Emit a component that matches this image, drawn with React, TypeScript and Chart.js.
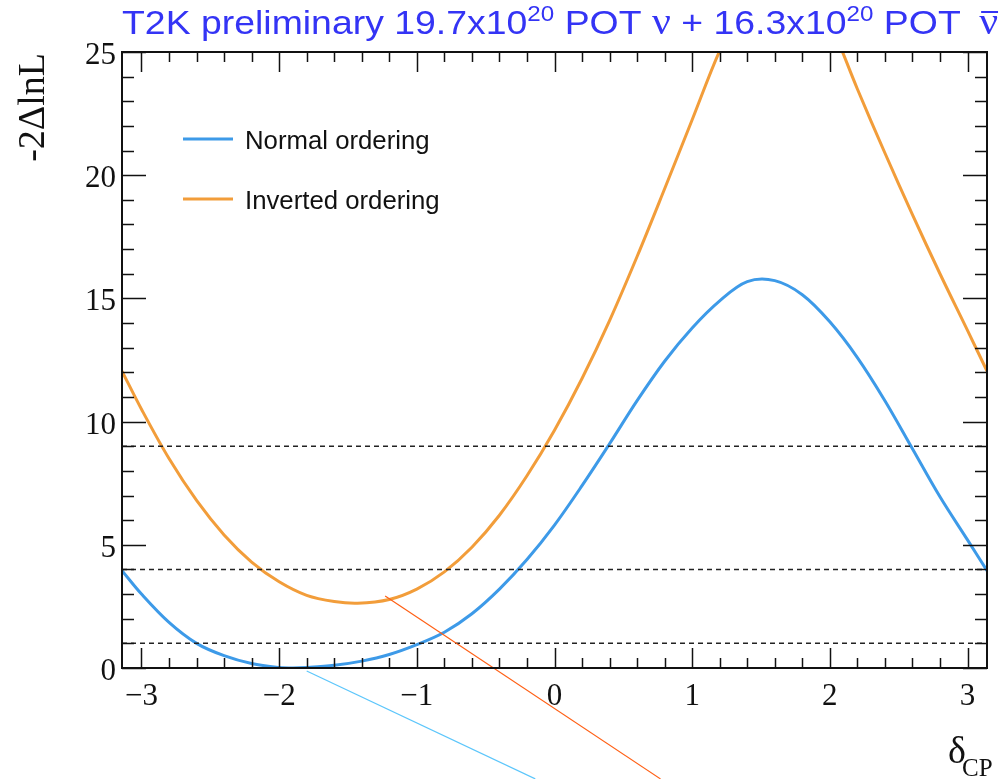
import React, { useEffect, useRef } from "react";
import { Chart, registerables } from "chart.js";

Chart.register(...registerables);

const PI = Math.PI;

// delta_CP sample points and -2ΔlnL values
const normalDelta = [-PI, -3.0, -2.8, -2.6, -2.4, -2.2, -2.0, -1.9, -1.8, -1.6, -1.4, -1.2, -1.0, -0.8, -0.6, -0.4, -0.2, 0, 0.2, 0.4, 0.6, 0.8, 1.0, 1.2, 1.4, 1.6, 1.8, 2.0, 2.2, 2.4, 2.6, 2.8, 3.0, PI];
const normalChi2 = [3.95, 3.0, 1.85, 1.0, 0.5, 0.18, 0.02, 0.0, 0.02, 0.11, 0.28, 0.55, 0.95, 1.45, 2.2, 3.2, 4.4, 5.8, 7.4, 9.1, 10.85, 12.45, 13.8, 14.9, 15.68, 15.72, 15.15, 14.05, 12.6, 10.85, 8.9, 6.95, 5.2, 3.95];

const invertedDelta = [-PI, -3.0, -2.8, -2.6, -2.4, -2.2, -2.0, -1.8, -1.6, -1.43, -1.2, -1.0, -0.8, -0.6, -0.4, -0.2, 0, 0.2, 0.4, 0.6, 0.8, 1.0, 1.2, 1.4, 1.6, 1.8, 2.0, 2.2, 2.4, 2.6, 2.8, 3.0, PI];
const invertedChi2 = [12.05, 10.5, 8.5, 6.8, 5.4, 4.3, 3.5, 2.95, 2.7, 2.63, 2.78, 3.2, 3.9, 4.9, 6.2, 7.8, 9.65, 11.75, 14.1, 16.7, 19.45, 22.25, 25.05, 27.3, 28.4, 28.2, 26.2, 23.5, 20.9, 18.4, 16.0, 13.7, 12.05];

const xMajorTicks = [-3, -2, -1, 0, 1, 2, 3];
const xTickLabels = ["\u22123", "\u22122", "\u22121", "0", "1", "2", "3"];
const yMajorTicks = [0, 5, 10, 15, 20, 25];
const yTickLabels = ["0", "5", "10", "15", "20", "25"];
const confidenceLevels = [1, 4, 9];

// thin pointer lines (data coordinates: start, end)
const normalPointer = [[-1.8, -0.12], [-0.14, -4.5]];
const invertedPointer = [[-1.23, 2.92], [0.77, -4.5]];

const seriesNames = ["Normal ordering", "Inverted ordering"];
const seriesColors = ["#3d9ae8", "#f29d3a"];
const pointerColors = ["#5cc6fb", "#ff5f14"];

const SERIF = '"Liberation Serif", "DejaVu Serif", serif';
const SANS = '"Liberation Sans", Arial, sans-serif';

function stretchedText(ctx: CanvasRenderingContext2D, text: string, x: number, y: number, font: string, align: CanvasTextAlign, sx: number, color: string) {
  ctx.save();
  ctx.font = font;
  ctx.fillStyle = color;
  ctx.textBaseline = "alphabetic";
  ctx.textAlign = align;
  ctx.translate(x, y);
  ctx.scale(sx, 1);
  ctx.fillText(text, 0, 0);
  ctx.restore();
}

const rootStyle = {
  id: "rootStyle",
  afterDatasetsDraw(chart: any) {
    const { ctx, scales } = chart;
    const xs = scales.x, ys = scales.y;
    const pointers = [normalPointer, invertedPointer];
    ctx.save();
    ctx.lineWidth = 1.2;
    pointers.forEach((p, i) => {
      ctx.strokeStyle = pointerColors[i];
      ctx.beginPath();
      ctx.moveTo(xs.getPixelForValue(p[0][0]), ys.getPixelForValue(p[0][1]));
      ctx.lineTo(xs.getPixelForValue(p[1][0]), ys.getPixelForValue(p[1][1]));
      ctx.stroke();
    });
    ctx.restore();
  },
  afterDraw(chart: any) {
    const { ctx, chartArea: a, scales } = chart;
    const xs = scales.x, ys = scales.y;
    ctx.save();
    ctx.strokeStyle = "#111";
    // ticks
    ctx.lineWidth = 1.5;
    ctx.beginPath();
    const xMin = xs.min, xMax = xs.max;
    for (let k = Math.ceil(xMin / 0.2 - 1e-6); k <= Math.floor(xMax / 0.2 + 1e-6); k++) {
      const v = k * 0.2;
      const major = Math.abs(v - Math.round(v)) < 1e-6;
      const len = major ? 20 : 10;
      const px = Math.round(xs.getPixelForValue(v)) + 0.5;
      ctx.moveTo(px, a.bottom); ctx.lineTo(px, a.bottom - len);
      ctx.moveTo(px, a.top); ctx.lineTo(px, a.top + len);
    }
    for (let v = ys.min; v <= ys.max; v += 1) {
      const major = v % 5 === 0;
      const len = major ? 24 : 12;
      const py = Math.round(ys.getPixelForValue(v)) + 0.5;
      ctx.moveTo(a.left, py); ctx.lineTo(a.left + len, py);
      ctx.moveTo(a.right, py); ctx.lineTo(a.right - len, py);
    }
    ctx.stroke();
    // frame
    ctx.lineWidth = 2;
    ctx.strokeRect(a.left, a.top, a.right - a.left, a.bottom - a.top);
    ctx.restore();

    // tick labels
    xMajorTicks.forEach((v, i) => {
      stretchedText(ctx, xTickLabels[i], xs.getPixelForValue(v), a.bottom + 37, `31px ${SERIF}`, "center", 1, "#111");
    });
    yMajorTicks.forEach((v, i) => {
      stretchedText(ctx, yTickLabels[i], a.left - 6, ys.getPixelForValue(v) + 12, `31px ${SERIF}`, "right", 1, "#111");
    });

    // axis titles
    ctx.save();
    ctx.font = `38px ${SERIF}`;
    ctx.fillStyle = "#111";
    ctx.textAlign = "right";
    ctx.textBaseline = "alphabetic";
    ctx.translate(44, a.top + 1);
    ctx.rotate(-Math.PI / 2);
    ctx.fillText("-2\u0394lnL", 0, 0);
    ctx.restore();

    stretchedText(ctx, "\u03b4", 966, 763, `38px ${SERIF}`, "right", 1, "#111");
    stretchedText(ctx, "CP", 962, 776, `25px ${SERIF}`, "left", 1, "#111");

    // title
    const blue = "rgb(52,52,245)";
    const sx = 1.1;
    const parts: [string, string, number][] = [
      ["T2K preliminary 19.7x10", `34px ${SANS}`, 34],
      ["20", `22px ${SANS}`, 21],
      [" POT ", `34px ${SANS}`, 34],
      ["\u03bd", `38px ${SERIF}`, 34],
      [" + 16.3x10", `34px ${SANS}`, 34],
      ["20", `22px ${SANS}`, 21],
      [" POT ", `34px ${SANS}`, 34],
      ["\u03bd", `38px ${SERIF}`, 34],
    ];
    let x = 122;
    parts.forEach((p, i) => {
      ctx.font = p[1];
      const w = ctx.measureText(p[0]).width * sx;
      const xi = i === parts.length - 1 ? x + 8 : x;
      stretchedText(ctx, p[0], xi, p[2], p[1], "left", sx, blue);
      if (i === parts.length - 1) {
        ctx.save();
        ctx.strokeStyle = blue;
        ctx.lineWidth = 2;
        ctx.beginPath();
        ctx.moveTo(xi + 2, 12);
        ctx.lineTo(xi + w, 12);
        ctx.stroke();
        ctx.restore();
      }
      x += w;
    });

    // legend
    const legendY = [139, 199];
    seriesNames.forEach((name, i) => {
      ctx.save();
      ctx.strokeStyle = seriesColors[i];
      ctx.lineWidth = 3;
      ctx.beginPath();
      ctx.moveTo(183, legendY[i]);
      ctx.lineTo(233, legendY[i]);
      ctx.stroke();
      ctx.restore();
      stretchedText(ctx, name, 245, legendY[i] + 10, `25px ${SANS}`, "left", 1.03, "#111");
    });
  },
};

export default function App() {
  const ref = useRef<HTMLCanvasElement | null>(null);
  useEffect(() => {
    if (!ref.current) return;
    const levelSets = confidenceLevels.map((lv) => ({
      data: [{ x: -PI, y: lv }, { x: PI, y: lv }],
      borderColor: "#222",
      borderWidth: 1.5,
      borderDash: [5, 4],
      pointRadius: 0,
      tension: 0,
    }));
    const chart = new Chart(ref.current, {
      type: "line",
      data: {
        datasets: [
          ...levelSets,
          {
            label: seriesNames[0],
            data: normalDelta.map((d, i) => ({ x: d, y: normalChi2[i] })),
            borderColor: seriesColors[0],
            borderWidth: 3,
            pointRadius: 0,
            tension: 0.35,
          },
          {
            label: seriesNames[1],
            data: invertedDelta.map((d, i) => ({ x: d, y: invertedChi2[i] })),
            borderColor: seriesColors[1],
            borderWidth: 3,
            pointRadius: 0,
            tension: 0.35,
          },
        ] as any,
      },
      options: {
        animation: false,
        responsive: false,
        devicePixelRatio: 1,
        layout: { padding: { left: 122, right: 12, top: 52, bottom: 111 } },
        scales: {
          x: { type: "linear", min: -PI, max: PI, display: false },
          y: { type: "linear", min: 0, max: 25, display: false },
        },
        plugins: { legend: { display: false }, tooltip: { enabled: false } },
      } as any,
      plugins: [rootStyle],
    });
    return () => chart.destroy();
  }, []);
  return (
    <div style={{ position: "absolute", left: 0, top: 0, width: 999, height: 779, background: "#fff" }}>
      <canvas ref={ref} width={999} height={779} style={{ width: 999, height: 779, display: "block" }} />
    </div>
  );
}
